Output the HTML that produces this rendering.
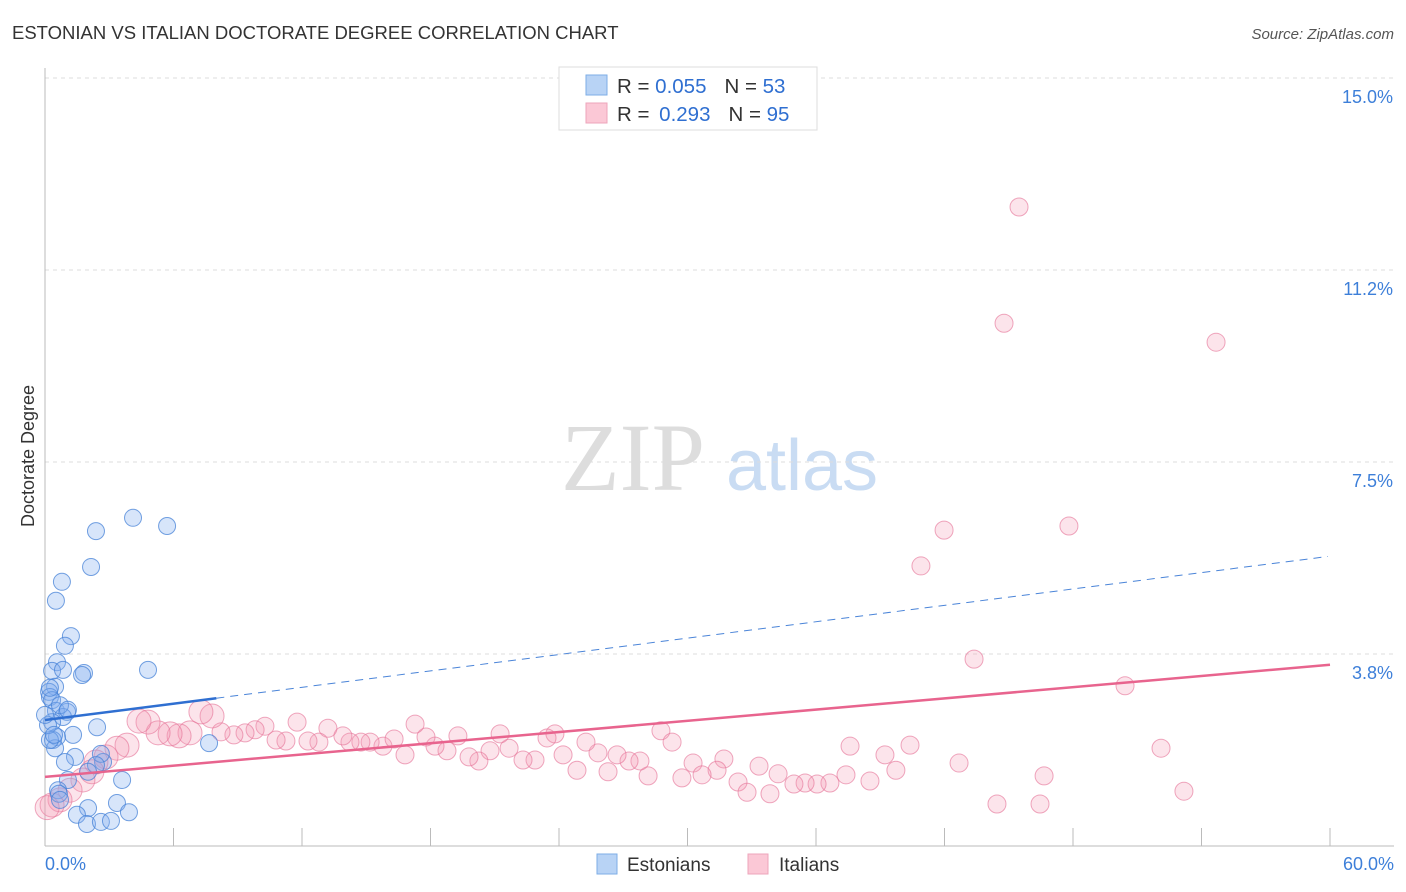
<!DOCTYPE html>
<html><head><meta charset="utf-8"><style>
body{margin:0;background:#fff;font-family:"Liberation Sans",sans-serif;}
#wrap{position:relative;width:1406px;height:892px;overflow:hidden;}
</style></head><body>
<div id="wrap">
<svg id="chart" width="1406" height="892" font-family="Liberation Sans, sans-serif">
<text x="12" y="39" font-size="18.5" fill="#333">ESTONIAN VS ITALIAN DOCTORATE DEGREE CORRELATION CHART</text>
<text x="1394" y="39" font-size="15" fill="#555" font-style="italic" text-anchor="end">Source: ZipAtlas.com</text>
<text x="34" y="456" font-size="18" fill="#333" transform="rotate(-90 34 456)" text-anchor="middle">Doctorate Degree</text>
<g><text x="633" y="490" font-size="96" fill="#ddd" font-family="Liberation Serif, serif" text-anchor="middle">ZIP</text><text x="802" y="490" font-size="72" fill="#c9dcf3" text-anchor="middle">atlas</text></g>
<g id="grid"></g><g id="axes"></g><g id="pts"></g><g id="lines"></g>
<g>
<rect x="559" y="67" width="258" height="63" fill="#fff" stroke="#ddd"/>
<rect x="586" y="75" width="21" height="20" fill="#b8d3f5" stroke="#7eaee6"/>
<rect x="586" y="103" width="21" height="20" fill="#fbc8d6" stroke="#eea5bb"/>
<text x="617" y="93" font-size="20.5" fill="#333">R = <tspan fill="#2f6fd1">0.055</tspan><tspan dx="18">N = </tspan><tspan fill="#2f6fd1">53</tspan></text>
<text x="617" y="121" font-size="20.5" fill="#333">R = <tspan dx="4" fill="#2f6fd1">0.293</tspan><tspan dx="18">N = </tspan><tspan fill="#2f6fd1">95</tspan></text>
</g>
<g>
<rect x="597" y="854" width="20" height="20" fill="#b8d3f5" stroke="#7eaee6"/>
<text x="627" y="871" font-size="19" fill="#333">Estonians</text>
<rect x="748" y="854" width="20" height="20" fill="#fbc8d6" stroke="#eea5bb"/>
<text x="779" y="871" font-size="19" fill="#333">Italians</text>
</g>
</svg>
</div>
<script>
const yTicks=[3.75,7.5,11.25,15.0];
const yTickLabels=["3.8%","7.5%","11.2%","15.0%"];
const xTickLabels=["0.0%","60.0%"];
const blueX=[4.11,5.70,2.38,2.15,0.79,0.51,1.21,0.93,0.56,0.33,4.81,1.82,1.73,0.47,0.19,0.23,0.33,0.51,1.03,0.84,0.33,2.43,1.31,0.56,0.37,0.47,7.66,1.40,0.93,2.71,2.61,2.38,2.01,1.07,3.60,0.61,0.65,0.70,3.36,2.01,1.49,3.92,1.96,2.61,3.08,0.23,0.14,0.42,0.70,1.07,0.0,0.23,0.84];
const blueY=[6.41,6.25,6.15,5.45,5.16,4.79,4.10,3.91,3.59,3.42,3.44,3.38,3.34,3.11,3.01,2.91,2.85,2.64,2.62,2.52,2.42,2.32,2.17,2.13,2.07,1.91,2.01,1.74,1.64,1.64,1.80,1.58,1.45,1.29,1.29,1.09,1.02,0.90,0.84,0.74,0.61,0.66,0.43,0.47,0.49,2.07,2.36,2.17,2.75,2.66,2.56,3.09,3.44];
const pinkX=[45.48,44.78,54.68,41.98,47.81,40.90,43.38,50.43,52.11,53.18,44.45,46.46,46.65,42.68,40.39,39.22,37.59,39.73,38.52,37.40,36.65,36.05,35.49,34.97,34.23,33.34,33.85,32.36,32.78,31.70,31.38,30.26,30.68,29.74,28.76,29.28,28.16,27.78,27.27,26.71,26.29,25.82,25.26,24.84,24.19,23.81,23.44,22.88,22.32,21.67,21.25,20.78,20.26,19.80,19.28,18.77,18.21,17.79,17.28,16.81,15.78,16.30,15.18,14.75,14.24,13.91,13.21,12.79,12.28,11.77,11.25,10.79,10.27,9.81,9.34,8.82,8.22,7.80,7.28,6.77,6.26,5.84,5.28,4.81,4.39,3.83,3.36,2.85,2.38,2.19,1.77,1.17,0.70,0.33,0.10];
const pinkY=[12.48,10.21,9.84,6.17,6.25,5.47,3.65,3.13,1.91,1.07,0.82,0.82,1.37,1.62,1.97,1.78,1.95,1.48,1.27,1.39,1.23,1.21,1.23,1.21,1.41,1.56,1.02,1.25,1.05,1.70,1.48,1.62,1.39,1.33,2.25,2.03,1.37,1.66,1.66,1.78,1.45,1.82,2.03,1.48,1.78,2.19,2.11,1.68,1.68,1.91,2.19,1.86,1.66,1.74,2.15,1.86,1.95,2.13,2.38,1.78,1.95,2.09,2.03,2.03,2.03,2.15,2.30,2.03,2.05,2.42,2.05,2.07,2.34,2.27,2.21,2.17,2.23,2.54,2.62,2.21,2.15,2.19,2.21,2.42,2.44,1.97,1.91,1.74,1.64,1.45,1.29,1.09,0.90,0.80,0.75];
const blueTrend=[2.46,5.66];
const pinkTrend=[1.35,3.54];
const X=v=>45+v*(1285/60);
const Y=v=>846-v*51.2;
const NS="http://www.w3.org/2000/svg";
function mk(tag,attrs,parent){const e=document.createElementNS(NS,tag);for(const k in attrs)e.setAttribute(k,attrs[k]);parent.appendChild(e);return e;}
const grid=document.getElementById('grid'),axes=document.getElementById('axes'),pts=document.getElementById('pts'),lines=document.getElementById('lines');
yTicks.forEach((t,i)=>{
  const gy=Y(t);
  const l=mk('line',{x1:45,x2:1394,y1:gy,y2:gy,stroke:'#ddd','stroke-dasharray':'4,4'},grid);
  
  
  const tx=mk('text',{x:1393,y:gy+25,'font-size':18,fill:'#3d7fd9','text-anchor':'end'},axes);
  tx.textContent=yTickLabels[i];
  
  
});
const ax=mk('line',{x1:45,x2:45,y1:68,y2:846,stroke:'#bbb'},axes);


const bx=mk('line',{x1:45,x2:1394,y1:846,y2:846,stroke:'#bbb'},axes);


for(let i=0;i<=10;i++){
  const t=mk('line',{x1:X(i*6),x2:X(i*6),y1:828,y2:846,stroke:'#bbb'},axes);
  
  
}
[[0,'start',45],[60,'end',1394]].forEach((d,i)=>{
  const t=mk('text',{x:d[2],y:870,'font-size':18,fill:'#3d7fd9','text-anchor':d[1]},axes);
  t.textContent=xTickLabels[i];
  
  
});
pinkX.forEach((x,i)=>{
  const c=mk('circle',{cx:X(x),cy:Y(pinkY[i]),r:x<8?(x<3?12:12):9,fill:'rgba(244,150,178,0.26)',stroke:'rgba(230,120,155,0.65)','stroke-width':1},pts);
  
  
});
blueX.forEach((x,i)=>{
  const c=mk('circle',{cx:X(x),cy:Y(blueY[i]),r:8.5,fill:'rgba(130,175,240,0.32)',stroke:'rgba(70,130,215,0.75)','stroke-width':1},pts);
  
  
});
const bv=x=>blueTrend[0]+(blueTrend[1]-blueTrend[0])*x/60;
const pv=x=>pinkTrend[0]+(pinkTrend[1]-pinkTrend[0])*x/60;
const b1=mk('line',{x1:X(0),y1:Y(bv(0)),x2:X(8),y2:Y(bv(8)),stroke:'#2f6fd1','stroke-width':2.5},lines);


const b2=mk('line',{x1:X(8),y1:Y(bv(8)),x2:X(59.9),y2:Y(bv(59.9)),stroke:'#4a84d8','stroke-width':1,'stroke-dasharray':'8,6'},lines);


const p1=mk('line',{x1:X(0),y1:Y(pv(0)),x2:X(60),y2:Y(pv(60)),stroke:'#e8648e','stroke-width':2.5},lines);


</script>
</body></html>
